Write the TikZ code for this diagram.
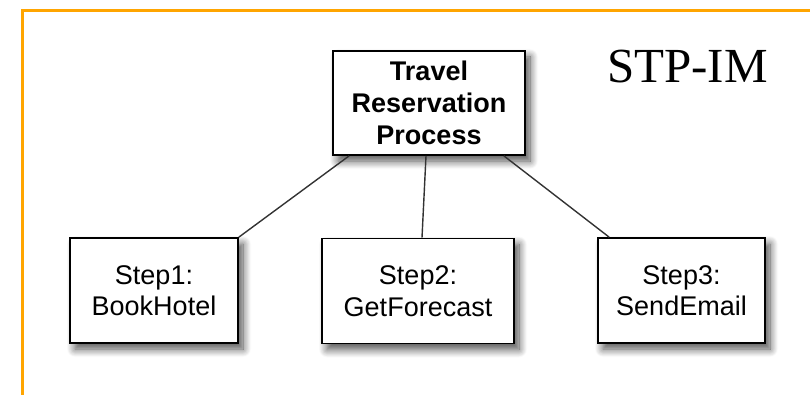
\documentclass[tikz,border=0pt]{standalone}
\usepackage{fontspec}
\setmainfont{Liberation Serif}
\setsansfont{Liberation Sans}
\usetikzlibrary{shadows.blur}
\definecolor{frameOrange}{HTML}{FFA500}

\begin{document}
\begin{tikzpicture}[x=1pt, y=-1pt,
    boxStyle/.style={rectangle, draw, line width=1.7pt, fill=white, align=center, inner sep=0pt, minimum height=105pt,
        font=\sffamily\fontsize{27}{31.5}\selectfont,
        blur shadow={shadow xshift=5pt, shadow yshift=-6pt, shadow blur radius=8pt, shadow blur steps=12, shadow opacity=70}},
    linkStyle/.style={draw=black!80, line width=1.4pt}]
    \useasboundingbox (0, 0) rectangle (810, 395);

    % frame
    \draw[frameOrange, line width=3.3pt] (22.3, 396) -- (22.3, 10.7) -- (811, 10.7);

    \node[boxStyle, font=\sffamily\bfseries\fontsize{27}{32}\selectfont, minimum width=192pt, minimum height=104pt] (travelProc) at (429, 103) {Travel\\Reservation\\Process};

    \node[boxStyle, minimum width=168pt] (step1) at (154, 290.5) {Step1:\\BookHotel};
    \node[boxStyle, minimum width=192pt] (step2) at (418, 291)   {Step2:\\GetForecast};
    \node[boxStyle, minimum width=167pt] (step3) at (681.5, 290.5) {Step3:\\SendEmail};

    \node[anchor=base west, inner sep=0pt, font=\fontsize{49}{55}\selectfont] (stpLabel) at (607, 83) {STP-IM};

    \draw[linkStyle] ([xshift=17pt]travelProc.south west) -- (step1.north east);
    \draw[linkStyle] ([xshift=-3pt]travelProc.south) -- ([xshift=4pt]step2.north);
    \draw[linkStyle] ([xshift=-22pt]travelProc.south east) -- ([xshift=12pt]step3.north west);
\end{tikzpicture}
\end{document}
